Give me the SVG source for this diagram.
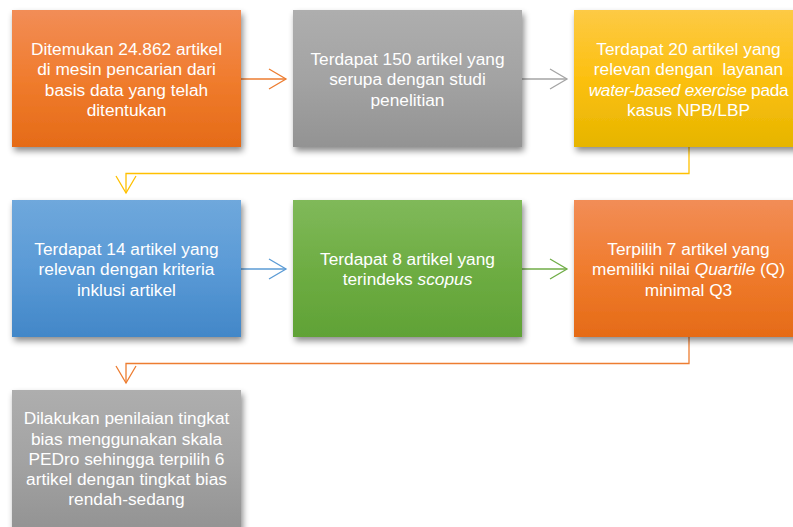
<svg xmlns="http://www.w3.org/2000/svg" width="793" height="527" viewBox="0 0 793 527">
<style>
.t{font-family:"Liberation Sans",Arial,sans-serif;font-size:17.3px;fill:#ffffff;text-anchor:middle}
.i{font-style:italic}
.c{fill:none;stroke-width:1.3}
</style>
<defs>
<filter id="sh" x="-10%" y="-10%" width="125%" height="130%">
<feDropShadow dx="2" dy="4" stdDeviation="3" flood-color="#000" flood-opacity="0.45"/>
</filter>
<linearGradient id="gO" x1="0" y1="0" x2="0" y2="1"><stop offset="0" stop-color="#F28D57"/><stop offset="0.5" stop-color="#F07C2E"/><stop offset="1" stop-color="#E56B17"/></linearGradient>
<linearGradient id="gG" x1="0" y1="0" x2="0" y2="1"><stop offset="0" stop-color="#AEAEAE"/><stop offset="0.5" stop-color="#A3A3A3"/><stop offset="1" stop-color="#939393"/></linearGradient>
<linearGradient id="gY" x1="0" y1="0" x2="0" y2="1"><stop offset="0" stop-color="#FDCA45"/><stop offset="0.5" stop-color="#FCC010"/><stop offset="1" stop-color="#E6B500"/></linearGradient>
<linearGradient id="gB" x1="0" y1="0" x2="0" y2="1"><stop offset="0" stop-color="#6FA8DC"/><stop offset="0.5" stop-color="#5A9AD6"/><stop offset="1" stop-color="#4287C8"/></linearGradient>
<linearGradient id="gN" x1="0" y1="0" x2="0" y2="1"><stop offset="0" stop-color="#80B95A"/><stop offset="0.5" stop-color="#6EAD43"/><stop offset="1" stop-color="#60A236"/></linearGradient>
<marker id="mO" markerUnits="userSpaceOnUse" markerWidth="20" markerHeight="22" refX="17" refY="10" orient="auto" overflow="visible"><path d="M0,0 L17,10 L0,20" fill="none" stroke="#ED7D31" stroke-width="1.3"/></marker>
<marker id="mG" markerUnits="userSpaceOnUse" markerWidth="20" markerHeight="22" refX="17" refY="10" orient="auto" overflow="visible"><path d="M0,0 L17,10 L0,20" fill="none" stroke="#A5A5A5" stroke-width="1.3"/></marker>
<marker id="mY" markerUnits="userSpaceOnUse" markerWidth="20" markerHeight="22" refX="17" refY="10" orient="auto" overflow="visible"><path d="M0,0 L17,10 L0,20" fill="none" stroke="#FFC000" stroke-width="1.3"/></marker>
<marker id="mB" markerUnits="userSpaceOnUse" markerWidth="20" markerHeight="22" refX="17" refY="10" orient="auto" overflow="visible"><path d="M0,0 L17,10 L0,20" fill="none" stroke="#5B9BD5" stroke-width="1.3"/></marker>
<marker id="mN" markerUnits="userSpaceOnUse" markerWidth="20" markerHeight="22" refX="17" refY="10" orient="auto" overflow="visible"><path d="M0,0 L17,10 L0,20" fill="none" stroke="#70AD47" stroke-width="1.3"/></marker>
</defs>
<rect width="793" height="527" fill="#ffffff"/>
<g id="connectors">
<path class="c" stroke="#ED7D31" d="M241,79 H286" marker-end="url(#mO)"/>
<path class="c" stroke="#A5A5A5" d="M522,79 H567" marker-end="url(#mG)"/>
<path class="c" stroke="#FFC000" d="M689,147 V173.5 H126 V193" marker-end="url(#mY)"/>
<path class="c" stroke="#5B9BD5" d="M241,269 H286" marker-end="url(#mB)"/>
<path class="c" stroke="#70AD47" d="M522,269 H567" marker-end="url(#mN)"/>
<path class="c" stroke="#ED7D31" d="M689,337 V363.5 H126 V383" marker-end="url(#mO)"/>
</g>
<g id="n1">
<rect x="12" y="10" width="229" height="137" fill="url(#gO)" filter="url(#sh)"/>
<text class="t"><tspan x="126.5" y="54.5">Ditemukan 24.862 artikel</tspan><tspan x="126.5" y="75">di mesin pencarian dari</tspan><tspan x="126.5" y="95.5">basis data yang telah</tspan><tspan x="126.5" y="116">ditentukan</tspan></text>
</g>
<g id="n2">
<rect x="293" y="10" width="229" height="137" fill="url(#gG)" filter="url(#sh)"/>
<text class="t"><tspan x="407.5" y="64.5">Terdapat 150 artikel yang</tspan><tspan x="407.5" y="85">serupa dengan studi</tspan><tspan x="407.5" y="105.5">penelitian</tspan></text>
</g>
<g id="n3">
<rect x="574" y="10" width="229" height="137" fill="url(#gY)" filter="url(#sh)"/>
<text class="t"><tspan x="688.5" y="54.5">Terdapat 20 artikel yang</tspan><tspan x="688.5" y="75" xml:space="preserve">relevan dengan  layanan</tspan><tspan x="688.5" y="95.5" style="letter-spacing:-0.3px"><tspan class="i">water-based exercise</tspan> pada</tspan><tspan x="688.5" y="116">kasus NPB/LBP</tspan></text>
</g>
<g id="n4">
<rect x="12" y="200" width="229" height="137" fill="url(#gB)" filter="url(#sh)"/>
<text class="t"><tspan x="126.5" y="254.5">Terdapat 14 artikel yang</tspan><tspan x="126.5" y="275">relevan dengan kriteria</tspan><tspan x="126.5" y="295.5">inklusi artikel</tspan></text>
</g>
<g id="n5">
<rect x="293" y="200" width="229" height="137" fill="url(#gN)" filter="url(#sh)"/>
<text class="t"><tspan x="407.5" y="264.5">Terdapat 8 artikel yang</tspan><tspan x="407.5" y="285">terindeks <tspan class="i">scopus</tspan></tspan></text>
</g>
<g id="n6">
<rect x="574" y="200" width="229" height="137" fill="url(#gO)" filter="url(#sh)"/>
<text class="t"><tspan x="688.5" y="254.5">Terpilih 7 artikel yang</tspan><tspan x="688.5" y="275">memiliki nilai <tspan class="i">Quartile</tspan> (Q)</tspan><tspan x="688.5" y="295.5">minimal Q3</tspan></text>
</g>
<g id="n7">
<rect x="12" y="390" width="229" height="140" fill="url(#gG)" filter="url(#sh)"/>
<text class="t"><tspan x="126.5" y="424">Dilakukan penilaian tingkat</tspan><tspan x="126.5" y="444.5">bias menggunakan skala</tspan><tspan x="126.5" y="464.5">PEDro sehingga terpilih 6</tspan><tspan x="126.5" y="484.5">artikel dengan tingkat bias</tspan><tspan x="126.5" y="505">rendah-sedang</tspan></text>
</g>
</svg>
